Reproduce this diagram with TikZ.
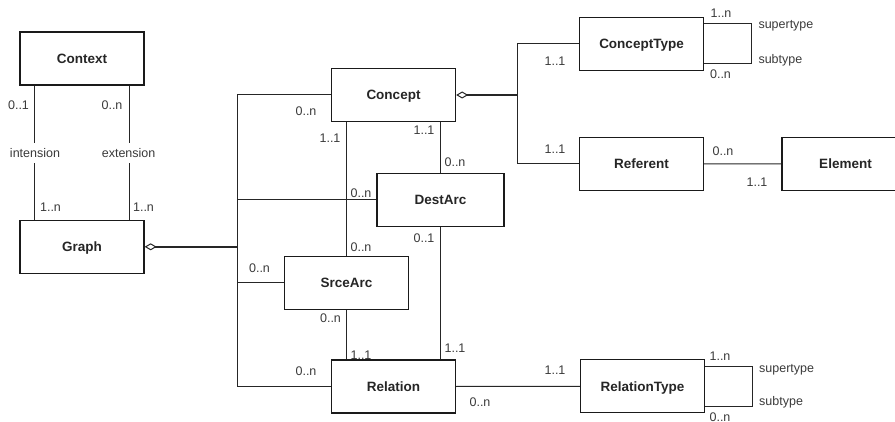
\documentclass[tikz,border=0pt]{standalone}
\usepackage{fontspec}
\setmainfont{Liberation Sans}
\usetikzlibrary{arrows.meta}
\definecolor{boxc}{HTML}{1A1A1A}
\definecolor{linec}{HTML}{262626}
\definecolor{txtc}{HTML}{262626}
\definecolor{lblc}{HTML}{3A3A3A}
\begin{document}
\begin{tikzpicture}[x=1pt,y=-1pt,
  cls/.style={draw=boxc, line width=1.3pt, fill=white, minimum width=124pt, minimum height=53pt,
    inner sep=0pt, font=\fontsize{13.5}{16}\selectfont\bfseries, text=txtc, text height=9.7pt, text depth=0pt},
  lbl/.style={font=\fontsize{12.5}{15}\selectfont, text=lblc, inner sep=0pt, anchor=base},
  lblw/.style={lbl, anchor=base west},
  con/.style={draw=linec, line width=1pt},
  agg/.style={draw=linec, line width=1.6pt, {Diamond[open, length=12pt, width=7pt, line width=1pt]}-}]
\useasboundingbox (0,0) rectangle (895,422);
\clip (0,0) rectangle (895,422);

% bus coordinates
\coordinate (bus) at (237,0);
\coordinate (cbus) at (517,0);

% classes
\node[cls] (Context) at (82,58.5) {Context};
\node[cls] (Graph) at (82,246.8) {Graph};
\node[cls] (Concept) at (393.5,95) {Concept};
\node[cls, minimum width=127pt] (DestArc) at (440.5,200) {DestArc};
\node[cls] (SrceArc) at (346.5,283) {SrceArc};
\node[cls] (Relation) at (393.5,386.5) {Relation};
\node[cls] (ConceptType) at (641.5,43.7) {ConceptType};
\node[cls] (Referent) at (641.5,163.8) {Referent};
\node[cls, minimum width=127pt] (Element) at (845.5,164) {Element};
\node[cls] (RelationType) at (642.5,386.3) {RelationType};

% Context - Graph
\draw[con] ([xshift=15pt]Context.south west) -- ([xshift=15pt]Context.south west |- Graph.north);
\draw[con] ([xshift=-15.5pt]Context.south east) -- ([xshift=-15.5pt]Context.south east |- Graph.north);

% Graph aggregation and bus
\draw[agg] (Graph.east) -- (bus |- Graph.east);
\draw[con] (Concept.west) -| (bus |- Relation.west) -- (Relation.west);
\draw[con] (DestArc.west) -- (bus |- DestArc.west);
\draw[con] (SrceArc.west) -- (bus |- SrceArc.west);

% arcs
\draw[con] (SrceArc.north |- Concept.south) -- (SrceArc.north);
\draw[con] (SrceArc.south) -- (SrceArc.south |- Relation.north);
\draw[con] ([xshift=-0.5pt]DestArc.north |- Concept.south) -- ([xshift=-0.5pt]DestArc.north);
\draw[con] ([xshift=-0.5pt]DestArc.south) -- ([xshift=-0.5pt]DestArc.south |- Relation.north);
\draw[con] (Relation.east) -- (RelationType.west);

% Concept aggregation
\draw[agg, line width=1.2pt] (Concept.east) -- (cbus |- Concept.east);
\draw[con] (ConceptType.west) -| (cbus |- Referent.west) -- (Referent.west);
\draw[con] (Referent.east) -- (Element.west);

% self loops
\draw[con] ([yshift=19.7pt]ConceptType.east) -- ++(47,0) -- ++(0,39.4) -- ([yshift=-19.7pt]ConceptType.east);
\draw[con] ([yshift=19.6pt]RelationType.east) -- ++(47,0) -- ++(0,39.3) -- ([yshift=-19.7pt]RelationType.east);

% labels
\node[lbl] (l1) at (18.5,109.5) {0..1};
\node[lbl] (l2) at (112,109.5) {0..n};
\node[lbl, fill=white, inner xsep=1pt, inner ysep=5.5pt, text height=9pt, text depth=0pt] (l3) at (35,157.5) {intension};
\node[lbl, fill=white, inner xsep=1pt, inner ysep=5.5pt, text height=9pt, text depth=0pt] (l4) at (128.6,157.5) {extension};
\node[lbl] (l5) at (50.5,211.5) {1..n};
\node[lbl] (l6) at (143.5,211.5) {1..n};
\node[lbl] (l7) at (306,115.2) {0..n};
\node[lbl] (l8) at (330,142.5) {1..1};
\node[lbl] (l9) at (424,134.5) {1..1};
\node[lbl] (l10) at (455,166.2) {0..n};
\node[lbl] (l11) at (361,197.5) {0..n};
\node[lbl] (l12) at (424,242.5) {0..1};
\node[lbl] (l13) at (361,251.5) {0..n};
\node[lbl] (l14) at (259.5,272.5) {0..n};
\node[lbl] (l15) at (330.5,322.5) {0..n};
\node[lbl] (l16) at (361,359.8) {1..1};
\node[lbl] (l17) at (455,352.2) {1..1};
\node[lbl] (l18) at (306,375.2) {0..n};
\node[lbl] (l19) at (480,406.2) {0..n};
\node[lbl] (l20) at (555,374.5) {1..1};
\node[lbl] (l21) at (721,17.8) {1..n};
\node[lblw] (l22) at (758.3,29) {supertype};
\node[lblw] (l23) at (758.3,64) {subtype};
\node[lbl] (l24) at (720.5,78.5) {0..n};
\node[lbl] (l25) at (555,65.2) {1..1};
\node[lbl] (l26) at (555,153.5) {1..1};
\node[lbl] (l27) at (723,155.2) {0..n};
\node[lbl] (l28) at (757,186.2) {1..1};
\node[lbl] (l29) at (720,360.5) {1..n};
\node[lblw] (l30) at (759,372) {supertype};
\node[lblw] (l31) at (759,405) {subtype};
\node[lbl] (l32) at (720,421.2) {0..n};
\end{tikzpicture}
\end{document}
